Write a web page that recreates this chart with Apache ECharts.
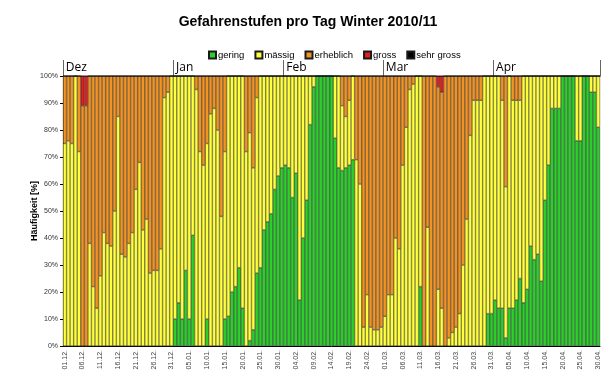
<!DOCTYPE html>
<html><head><meta charset="utf-8">
<script src="https://cdn.jsdelivr.net/npm/echarts@6/dist/echarts.min.js"></script>
<style>html,body{margin:0;padding:0;background:#fff}#c{width:616px;height:385px}</style>
</head><body><div id="c"></div>
<script>
// Months of the season
const monthNames = ['Dez','Jan','Feb','Mar','Apr'];
const monthNums  = ['12','01','02','03','04'];
const monthDays  = [31,31,28,31,30];

// Daily share of each danger level [%], 01.12.2010 - 30.04.2011
const gering = [
 0,0,0,0,0,0,0,0,0,0,0,0,0,0,0,0,0,0,0,0,0,0,0,0,0,0,0,0,0,0,0,
 10,16,10,28,10,41,0,0,0,10,0,0,0,0,10,11,20,22,29,14,0,2,6,27,29,43,46,49,58,63,66,
 67,66,55,64,17,40,54,82,96,100,100,100,100,100,77,66,65,66,67,69,0,0,0,0,0,0,0,0,
 0,0,0,0,0,0,0,0,0,0,22,0,0,0,0,0,0,0,0,0,0,0,0,0,0,0,0,0,0,12,12,
 17,14,14,3,14,14,17,25,16,21,37,32,34,24,54,67,88,88,88,100,100,100,100,76,76,100,100,94,94,81
];
const maessig = [
 75,76,75,100,72,0,0,38,22,14,26,42,38,37,50,85,34,33,38,42,58,68,43,47,27,28,28,36,92,94,100,
 90,84,90,72,90,59,95,72,67,65,86,88,80,48,62,89,80,78,71,86,72,77,60,65,71,57,54,51,42,37,34,
 33,34,45,36,83,60,46,18,4,0,0,0,0,0,23,34,24,19,24,31,69,60,7,19,7,6,6,7,
 11,19,19,40,36,67,81,95,97,100,78,0,44,0,0,21,14,0,3,5,7,12,30,47,78,91,91,91,100,88,88,
 83,86,77,56,86,77,74,66,84,79,63,68,66,76,46,33,12,12,12,0,0,0,0,24,24,0,0,6,6,19
];
const erheblich = [
 25,24,25,0,28,89,89,62,78,86,74,58,62,63,50,15,66,67,62,58,42,32,57,53,73,72,72,64,8,6,0,
 0,0,0,0,0,0,5,28,33,25,14,12,20,52,28,0,0,0,0,0,28,21,34,8,0,0,0,0,0,0,0,
 0,0,0,0,0,0,0,0,0,0,0,0,0,0,0,0,11,15,9,0,31,40,93,81,93,94,94,93,
 89,81,81,60,64,33,19,5,3,0,0,100,56,100,100,75,80,100,97,95,93,88,70,53,22,9,9,9,0,0,0,
 0,0,9,41,0,9,9,9,0,0,0,0,0,0,0,0,0,0,0,0,0,0,0,0,0,0,0,0,0,0
];
const gross = [
 0,0,0,0,0,11,11,0,0,0,0,0,0,0,0,0,0,0,0,0,0,0,0,0,0,0,0,0,0,0,0,
 0,0,0,0,0,0,0,0,0,0,0,0,0,0,0,0,0,0,0,0,0,0,0,0,0,0,0,0,0,0,0,
 0,0,0,0,0,0,0,0,0,0,0,0,0,0,0,0,0,0,0,0,0,0,0,0,0,0,0,0,
 0,0,0,0,0,0,0,0,0,0,0,0,0,0,0,4,6,0,0,0,0,0,0,0,0,0,0,0,0,0,0,
 0,0,0,0,0,0,0,0,0,0,0,0,0,0,0,0,0,0,0,0,0,0,0,0,0,0,0,0,0,0
];
const sehrGross = [
 0,0,0,0,0,0,0,0,0,0,0,0,0,0,0,0,0,0,0,0,0,0,0,0,0,0,0,0,0,0,0,
 0,0,0,0,0,0,0,0,0,0,0,0,0,0,0,0,0,0,0,0,0,0,0,0,0,0,0,0,0,0,0,
 0,0,0,0,0,0,0,0,0,0,0,0,0,0,0,0,0,0,0,0,0,0,0,0,0,0,0,0,
 0,0,0,0,0,0,0,0,0,0,0,0,0,0,0,0,0,0,0,0,0,0,0,0,0,0,0,0,0,0,0,
 0,0,0,0,0,0,0,0,0,0,0,0,0,0,0,0,0,0,0,0,0,0,0,0,0,0,0,0,0,0
];

// Build day categories
const days = [];
const monthOfDay = [];
const firstOfMonth = [];
monthDays.forEach((n, mi) => {
  for (let d = 1; d <= n; d++) {
    days.push((d < 10 ? '0' + d : '' + d) + '.' + monthNums[mi] + '.');
    monthOfDay.push(mi);
    firstOfMonth.push(d === 1);
  }
});

const FONT = 'Liberation Sans';
const border = { borderColor: '#1a1a1a', borderWidth: 0.45 };
const mk = (name, data, color) => ({
  name, type: 'bar', stack: 'all', data, barCategoryGap: '0%',
  itemStyle: Object.assign({ color }, border),
  emphasis: { disabled: true }
});

const chart = echarts.init(document.getElementById('c'), null, { renderer: 'canvas' });
chart.setOption({
  animation: false,
  backgroundColor: '#fff',
  title: {
    text: 'Gefahrenstufen pro Tag Winter 2010/11',
    left: 'center', top: 10,
    textStyle: { fontFamily: FONT, fontSize: 14, fontWeight: 'bold', color: '#000' }
  },
  legend: {
    top: 45, left: 203,
    itemWidth: 7, itemHeight: 7, itemGap: 10, icon: 'rect',
    textStyle: { fontFamily: FONT, fontSize: 9.5, color: '#000', padding: [0, 0, 0, -3] },
    data: ['gering', 'mässig', 'erheblich', 'gross', 'sehr gross']
  },
  grid: { left: 63, right: 16, top: 76, bottom: 39 },
  xAxis: [
    {
      type: 'category', data: days, position: 'bottom', boundaryGap: true,
      axisLine: { show: true, lineStyle: { color: '#000', width: 1 } },
      axisTick: { show: false },
      axisLabel: {
        rotate: 90, fontFamily: FONT, fontSize: 7, color: '#444', margin: 4,
        interval: (i) => i % 5 === 0
      }
    },
    {
      type: 'category', data: days, position: 'top', boundaryGap: true,
      axisLine: { show: true, lineStyle: { color: '#000', width: 1 } },
      axisTick: { show: true, length: 16, interval: (i) => firstOfMonth[i] === true, lineStyle: { color: '#666', width: 1 } },
      axisLabel: {
        show: true, interval: (i) => firstOfMonth[i], margin: 2,
        align: 'left', padding: [0, 0, 0, 1],
        fontFamily: 'Open Sans', fontSize: 12, color: '#000',
        formatter: (v, i) => monthNames[monthOfDay[i]]
      }
    }
  ],
  yAxis: {
    type: 'value', min: 0, max: 100, interval: 10,
    name: 'Häufigkeit [%]', nameLocation: 'middle', nameGap: 24, nameMoveOverlap: false,
    nameTextStyle: { fontFamily: FONT, fontSize: 9, fontWeight: 'bold', color: '#000' },
    axisLine: { show: true, lineStyle: { color: '#000', width: 1 } },
    axisTick: { show: true, length: 3, lineStyle: { color: '#000' } },
    splitLine: { show: false },
    axisLabel: { formatter: '{value}%', fontFamily: FONT, fontSize: 7, color: '#333', margin: 5 }
  },
  series: [
    mk('gering', gering, '#2bd02b'),
    mk('mässig', maessig, '#ffff3c'),
    mk('erheblich', erheblich, '#f29322'),
    mk('gross', gross, '#e41e1e'),
    mk('sehr gross', sehrGross, '#000000')
  ]
});
</script></body></html>
